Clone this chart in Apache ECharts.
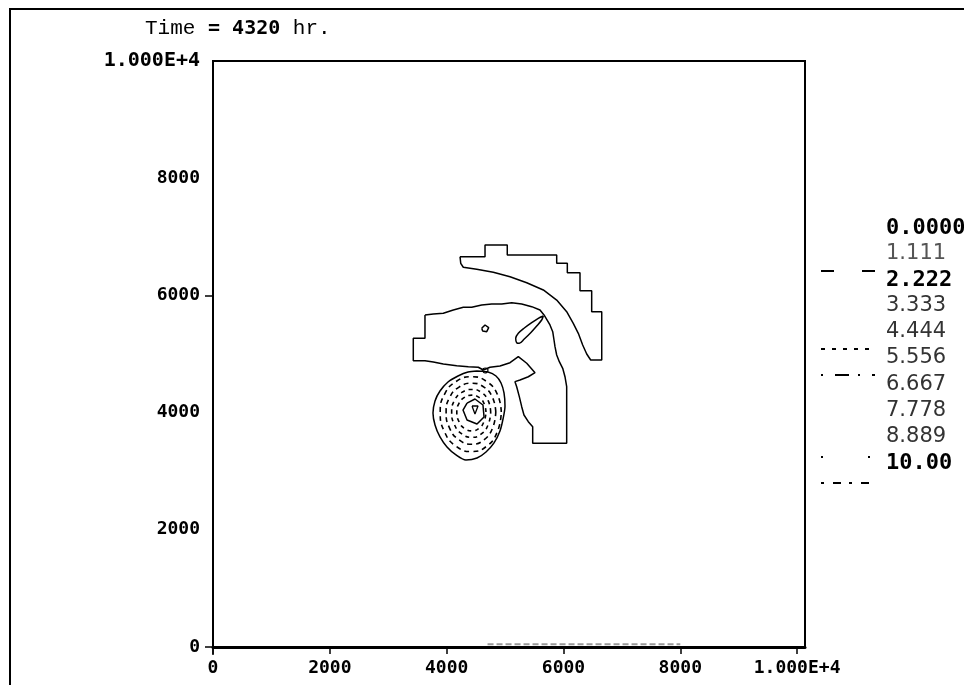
<!DOCTYPE html>
<html><head><meta charset="utf-8">
<script src="https://cdn.jsdelivr.net/npm/echarts@6/dist/echarts.min.js"></script>
<style>html,body{margin:0;padding:0;background:#fff}#c{width:964px;height:685px}</style>
</head><body><div id="c"></div>
<script>
// ---- tick values and labels ----
const xTicks = [0, 2000, 4000, 6000, 8000, 10000];
const xTickLabels = ['0', '2000', '4000', '6000', '8000', '1.000E+4'];
const yTicks = [0, 2000, 4000, 6000, 8000, 10000];
const yTickLabels = ['0', '2000', '4000', '6000', '8000', '1.000E+4'];
const yTickMarks = [0, 6000];
const titleTime = '4320';
// ---- contour levels (legend) ----
const levels = ['0.0000', '1.111', '2.222', '3.333', '4.444', '5.556', '6.667', '7.778', '8.889', '10.00'];
const levelBold = [true, false, true, false, false, false, false, false, false, true];

// ---- contour lines (x, y in metres) ----
const upperBand = [[4229,6661],[4657,6661],[4657,6860],[5038,6860],[5038,6690],[5884,6690],[5884,6548],[6066,6548],[6066,6388],[6283,6388],[6283,6080],[6483,6080],[6483,5722],[6655,5722],[6655,4898],[6466,4898],[6398,5000],[6329,5154],[6254,5353],[6168,5524],[6055,5722],[5884,5921],[5655,6093],[5371,6216],[5085,6319],[4799,6394],[4515,6446],[4285,6480],[4241,6548],[4229,6661]];
const middleBand = [[3629,5666],[3772,5683],[3943,5695],[4114,5751],[4285,5797],[4429,5797],[4600,5837],[4771,5853],[4943,5853],[5114,5876],[5285,5853],[5456,5808],[5598,5751],[5667,5666],[5713,5592],[5769,5495],[5816,5381],[5838,5239],[5855,5125],[5884,4983],[5929,4869],[5987,4756],[6026,4612],[6055,4442],[6055,3476],[5473,3476],[5473,3759],[5398,3845],[5324,3959],[5285,4101],[5244,4272],[5199,4442],[5170,4528],[5256,4557],[5398,4612],[5513,4681],[5371,4842],[5227,4954],[5085,4852],[4913,4795],[4742,4774],[4628,4727],[4542,4774],[4371,4784],[4172,4801],[3943,4830],[3772,4864],[3629,4885],[3429,4885],[3429,5268],[3629,5268],[3629,5666]];
const ellipse = [[5655,5648],[5627,5580],[5542,5478],[5439,5363],[5324,5251],[5244,5183],[5199,5193],[5182,5268],[5227,5353],[5324,5439],[5456,5535],[5569,5609],[5655,5648]];
const diamond = [[4600,5439],[4657,5495],[4720,5449],[4686,5381],[4617,5393],[4600,5439]];
const outerRing = [[4520,4710],[4708,4693],[4845,4625],[4931,4505],[4982,4335],[4999,4113],[4965,3891],[4913,3687],[4811,3482],[4674,3328],[4520,3225],[4331,3191],[4160,3277],[4006,3413],[3886,3584],[3801,3788],[3766,3993],[3801,4198],[3886,4368],[4023,4522],[4194,4625],[4366,4693],[4520,4710]];
const topLoop = [[4605,4727],[4657,4761],[4708,4727],[4657,4676],[4605,4727]];
const ringA = [[4935,4011],[4868,4312],[4684,4531],[4434,4612],[4162,4531],[3963,4312],[3890,4011],[3963,3673],[4162,3426],[4434,3335],[4684,3426],[4868,3673],[4935,4011]];
const ringB = [[4841,4011],[4786,4256],[4638,4435],[4434,4501],[4212,4435],[4050,4256],[3991,4011],[4050,3736],[4212,3535],[4434,3461],[4638,3535],[4786,3736],[4841,4011]];
const ringC = [[4754,4011],[4711,4204],[4594,4344],[4434,4395],[4260,4344],[4133,4204],[4086,4011],[4133,3795],[4260,3636],[4434,3578],[4594,3636],[4711,3795],[4754,4011]];
const ringD = [[4673,4011],[4641,4154],[4554,4259],[4434,4298],[4304,4259],[4209,4154],[4174,4011],[4209,3850],[4304,3731],[4434,3688],[4554,3731],[4641,3850],[4673,4011]];
const hexagon = [[4349,4163],[4485,4232],[4622,4130],[4640,3925],[4520,3806],[4349,3874],[4280,4044],[4349,4163]];
const core = [[4434,4113],[4537,4113],[4485,3976],[4434,4113]];
const baseTrace = [[4700,45],[8000,45]];

const tickFont = {fontFamily: 'DejaVu Sans Mono', fontWeight: 'bold', fontSize: 18, color: '#000'};

function contour(name, data, style, smooth) {
  return {
    name: name, type: 'line', data: data, showSymbol: false, symbol: 'none',
    smooth: smooth || false, silent: true,
    lineStyle: Object.assign({color: '#000', width: 1.5}, style || {})
  };
}

const chart = echarts.init(document.getElementById('c'), null, {renderer: 'canvas'});

const legendGraphics = [];
const legendTop = 230, legendStep = 26.1;
levels.forEach((lv, i) => {
  legendGraphics.push({
    type: 'text', left: 886, top: legendTop + i * legendStep - 13,
    style: levelBold[i]
      ? {text: lv, font: 'bold 22px "DejaVu Sans Mono"', fill: '#000'}
      : {text: lv, font: '21px "DejaVu Sans"', fill: i === 1 ? '#555' : '#333'}
  });
});
const sampleY = [271, 349, 375, 457, 483];
const sampleDash = [[13, 28], [4, 7], [2, 12, 14, 9], [2, 45], [3, 9, 8, 8]];
sampleY.forEach((y, i) => {
  legendGraphics.push({
    type: 'line', shape: {x1: 821, y1: y, x2: 875, y2: y},
    style: {stroke: '#000', lineWidth: 2, lineDash: sampleDash[i]}
  });
});

chart.setOption({
  animation: false,
  backgroundColor: '#fff',
  title: {
    text: '{a|Time }{b|= ' + titleTime + '}{a| hr.}',
    left: 140, top: 13,
    textStyle: {fontWeight: 'normal', rich: {
      a: {fontFamily: 'Liberation Mono', fontWeight: 'normal', fontSize: 21, color: '#000'},
      b: {fontFamily: 'DejaVu Sans Mono', fontWeight: 'bold', fontSize: 20, color: '#000'}
    }}
  },
  grid: {left: 213, top: 61, width: 592, height: 586, show: true, borderColor: '#000', borderWidth: 2, backgroundColor: '#fff'},
  xAxis: {
    type: 'value', min: 0, max: 10135,
    splitLine: {show: false},
    axisLine: {show: true, lineStyle: {color: '#000', width: 3}},
    axisTick: {show: true, length: 7, customValues: xTicks, lineStyle: {color: '#000', width: 1.5}},
    axisLabel: Object.assign({margin: 12, customValues: xTicks,
      formatter: v => xTickLabels[xTicks.indexOf(v)] || ''}, tickFont)
  },
  yAxis: {
    type: 'value', min: 0, max: 10000,
    splitLine: {show: false},
    axisLine: {show: true, lineStyle: {color: '#000', width: 2}},
    axisTick: {show: true, length: 8, customValues: yTickMarks, lineStyle: {color: '#000', width: 1.5}},
    axisLabel: Object.assign({margin: 13, customValues: yTicks,
      formatter: v => {
        const s = yTickLabels[yTicks.indexOf(v)] || '';
        return v === 10000 ? '{big|' + s + '}' : s;
      },
      rich: {big: {fontFamily: 'DejaVu Sans Mono', fontWeight: 'bold', fontSize: 20, color: '#000'}}
    }, tickFont)
  },
  graphic: [
    {type: 'polyline', shape: {points: [[10, 685], [10, 9], [964, 9]]}, style: {stroke: '#000', lineWidth: 2, fill: null}},
    {type: 'line', shape: {x1: 213, y1: 647, x2: 213, y2: 655}, style: {stroke: '#000', lineWidth: 1.5}}
  ].concat(legendGraphics),
  series: [
    contour('upperBand', upperBand),
    contour('middleBand', middleBand),
    contour('ellipse', ellipse, null, 0.3),
    contour('diamond', diamond),
    contour('outerRing', outerRing, null, 0.3),
    contour('topLoop', topLoop, {width: 1.2}, 0.5),
    contour('ringA', ringA, {type: [5, 4], width: 1.6}, 0.5),
    contour('ringB', ringB, {type: [5, 4], width: 1.6}, 0.5),
    contour('ringC', ringC, {type: [4, 4], width: 1.6}, 0.5),
    contour('ringD', ringD, {type: [4, 4], width: 1.6}, 0.5),
    contour('hexagon', hexagon, {width: 1.5}),
    contour('core', core, {width: 1.3}),
    contour('baseTrace', baseTrace, {color: '#999', width: 2, type: [6, 3]})
  ]
});
</script></body></html>
